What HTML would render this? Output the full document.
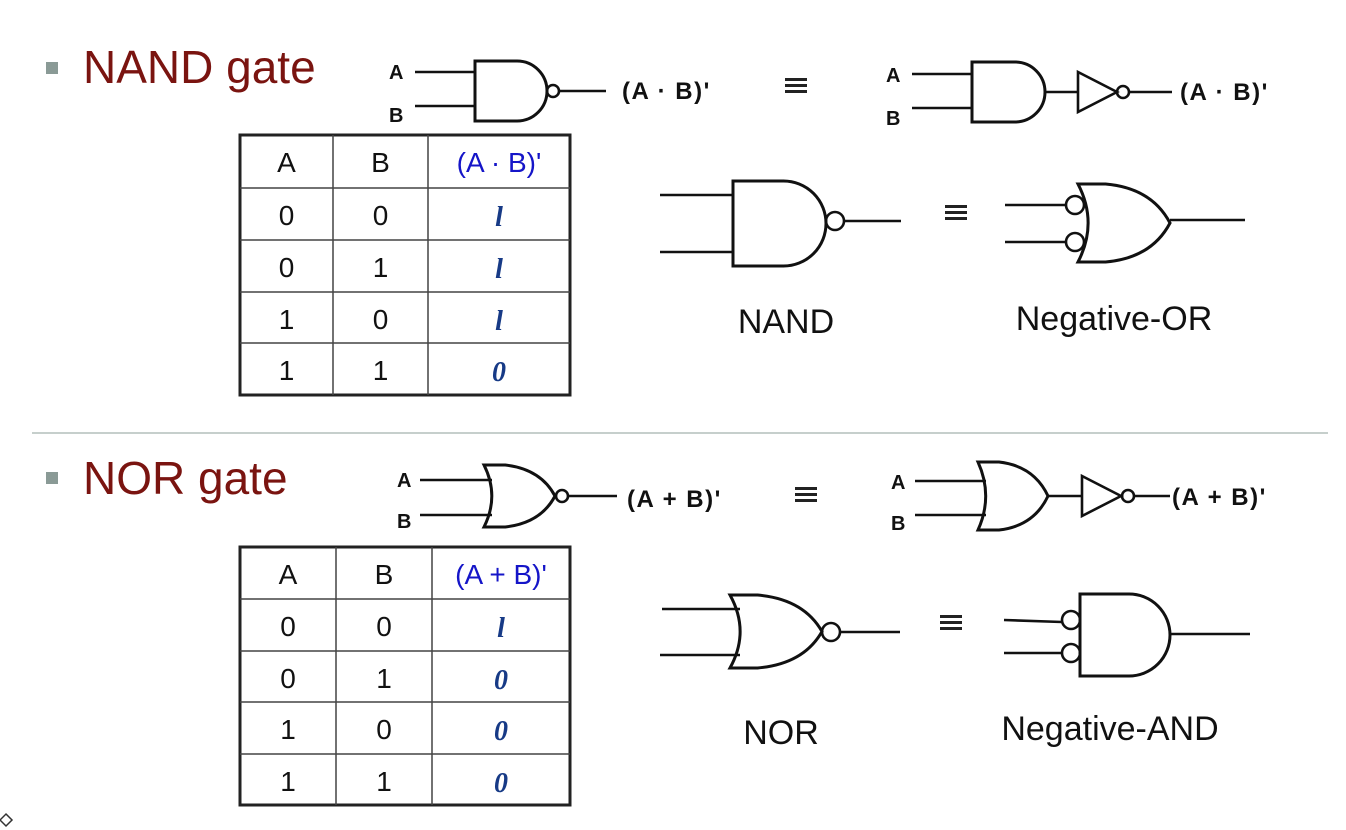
<!DOCTYPE html>
<html><head><meta charset="utf-8"><style>
html,body{margin:0;padding:0;background:#fff;}
svg{display:block;font-family:"Liberation Sans",sans-serif;}
</style></head><body>
<svg id="s" width="1346" height="830" viewBox="0 0 1346 830"></svg>
<script>
const NS='http://www.w3.org/2000/svg';
const s=document.getElementById('s');
function el(tag,attrs,name,txt){const e=document.createElementNS(NS,tag);for(const k in attrs)e.setAttribute(k,attrs[k]);


if(txt!==undefined)e.textContent=txt;s.appendChild(e);return e;}
const st={stroke:'#111',fill:'none','stroke-width':2.6};
function line(x1,y1,x2,y2,n){return el('line',Object.assign({x1,y1,x2,y2},st),n);}
function and(x0,y0,x1,y1,n){const r=(y1-y0)/2,xm=x1-r;return el('path',Object.assign({d:`M${x0},${y0}H${xm}A${r},${r} 0 0 1 ${xm},${y1}H${x0}Z`},st,{'stroke-width':3}),n);}
function or(x0,y0,x1,y1,n){const w=x1-x0,ym=(y0+y1)/2;return el('path',Object.assign({d:`M${x0},${y0}H${x0+w*0.3}Q${x0+w*0.8},${y0+4} ${x1},${ym}Q${x0+w*0.8},${y1-4} ${x0+w*0.3},${y1}H${x0}Q${x0+w*0.22},${ym} ${x0},${y0}Z`},st,{'stroke-width':3}),n);}
function bub(cx,cy,r,n){return el('circle',Object.assign({cx,cy,r},st),n);}
function tri(x0,y0,x1,y1,n){return el('path',Object.assign({d:`M${x0},${y0}L${x1},${(y0+y1)/2}L${x0},${y1}Z`},st),n);}
function txt(x,y,t,size,n,o){return el('text',Object.assign({x,y,'font-size':size,fill:'#111'},o||{}),n,t);}
function equiv(x,y,n){[0,6,12].forEach(d=>el('rect',{x:x,y:y+d,width:22,height:3,fill:'#222'},n));}
const EX={'font-weight':'bold','letter-spacing':'1.5'};

// NAND section
el('rect',{x:46,y:62,width:12,height:12,fill:'#8a9a96'},'nand-bullet');
txt(83,83,'NAND gate',46,'nand-title',{fill:'#7a1410'});
txt(389,79,'A',20,'nand-a-label',{'font-weight':'bold'});
txt(389,122,'B',20,'nand-b-label',{'font-weight':'bold'});
line(415,72,475,72,'nand-input-a');line(415,106,475,106,'nand-input-b');
and(475,61,547,121,'nand-body');bub(553,91,6,'nand-bubble');line(559,91,606,91,'nand-output');
txt(622,99,"(A · B)'",24,'nand-expression',EX);
equiv(785,78,'equiv-1');
txt(886,82,'A',20,'nand2-a-label',{'font-weight':'bold'});
txt(886,125,'B',20,'nand2-b-label',{'font-weight':'bold'});
line(912,74,972,74,'nand2-input-a');line(912,108,972,108,'nand2-input-b');
and(972,62,1045,122,'and-body');line(1045,92,1078,92,'and-out');
tri(1078,72,1117,112,'inverter');bub(1123,92,6,'inverter-bubble');line(1129,92,1172,92,'nand2-output');
txt(1180,100,"(A · B)'",24,'nand2-expression',EX);

line(660,195,733,195,'big-nand-in-a');line(660,252,733,252,'big-nand-in-b');
and(733,181,826,266,'big-nand-body');bub(835,221,9,'big-nand-bubble');line(844,221,901,221,'big-nand-out');
txt(786,333,'NAND',34,'nand-label',{'text-anchor':'middle'});
equiv(945,205,'equiv-2');
line(1005,205,1066,205,'negor-in-a');line(1005,242,1066,242,'negor-in-b');
bub(1075,205,9,'negor-bubble-a');bub(1075,242,9,'negor-bubble-b');
or(1078,184,1170,262,'negor-body');line(1170,220,1245,220,'negor-out');
txt(1114,330,'Negative-OR',34,'negor-label',{'text-anchor':'middle'});

function table(x,cols,rows,hdr,vals,hand,n){
  el('rect',{x:x,y:rows[0],width:cols[3]-x,height:rows[5]-rows[0],fill:'none',stroke:'#222','stroke-width':3},n+'-border');
  for(let i=1;i<5;i++)el('line',{x1:x,y1:rows[i],x2:cols[3],y2:rows[i],stroke:'#444','stroke-width':1.5},n+'-row-line');
  for(let i=1;i<3;i++)el('line',{x1:cols[i],y1:rows[0],x2:cols[i],y2:rows[5],stroke:'#444','stroke-width':1.5},n+'-col-line');
  const cx=[(x+cols[1])/2,(cols[1]+cols[2])/2,(cols[2]+cols[3])/2];
  txt(cx[0],rows[0]+37,'A',28,n+'-header-a',{'text-anchor':'middle'});
  txt(cx[1],rows[0]+37,'B',28,n+'-header-b',{'text-anchor':'middle'});
  txt(cx[2],rows[0]+37,hdr,28,n+'-header-out',{'text-anchor':'middle',fill:'#1515c8'});
  for(let r=0;r<4;r++){
    txt(cx[0],rows[r+1]+37,vals[r][0],28,n+'-cell',{'text-anchor':'middle'});
    txt(cx[1],rows[r+1]+37,vals[r][1],28,n+'-cell',{'text-anchor':'middle'});
    txt(cx[2],rows[r+1]+38,hand[r],28,n+'-handwritten',{'text-anchor':'middle',fill:'#173a86','font-weight':'bold','font-style':'italic','font-family':'Liberation Serif,serif'});
  }
}
const vals=[['0','0'],['0','1'],['1','0'],['1','1']];
table(240,[240,333,428,570],[135,188,240,292,343,395],"(A · B)'",vals,['l','l','l','0'],'nand-table');

el('line',{x1:32,y1:433,x2:1328,y2:433,stroke:'#b4bfbc','stroke-width':1.5},'separator');

// NOR section
el('rect',{x:46,y:472,width:12,height:12,fill:'#8a9a96'},'nor-bullet');
txt(83,494,'NOR gate',46,'nor-title',{fill:'#7a1410'});
txt(397,487,'A',20,'nor-a-label',{'font-weight':'bold'});
txt(397,528,'B',20,'nor-b-label',{'font-weight':'bold'});
line(420,480,492,480,'nor-input-a');line(420,515,492,515,'nor-input-b');
or(484,465,555,527,'nor-body');bub(562,496,6,'nor-bubble');line(568,496,617,496,'nor-output');
txt(627,507,"(A + B)'",24,'nor-expression',EX);
equiv(795,487,'equiv-3');
txt(891,489,'A',20,'nor2-a-label',{'font-weight':'bold'});
txt(891,530,'B',20,'nor2-b-label',{'font-weight':'bold'});
line(915,481,986,481,'nor2-input-a');line(915,515,986,515,'nor2-input-b');
or(978,462,1048,530,'or-body');line(1048,496,1082,496,'or-out');
tri(1082,476,1121,516,'inverter-2');bub(1128,496,6,'inverter-2-bubble');line(1134,496,1170,496,'nor2-output');
txt(1172,505,"(A + B)'",24,'nor2-expression',EX);

table(240,[240,336,432,570],[547,599,651,702,754,805],"(A + B)'",vals,['l','0','0','0'],'nor-table');

line(662,609,740,609,'big-nor-in-a');line(660,655,740,655,'big-nor-in-b');
or(730,595,822,668,'big-nor-body');bub(831,632,9,'big-nor-bubble');line(840,632,900,632,'big-nor-out');
txt(781,744,'NOR',34,'nor-label',{'text-anchor':'middle'});
equiv(940,615,'equiv-4');
line(1004,620,1062,622,'negand-in-a');line(1004,653,1062,653,'negand-in-b');
bub(1071,620,9,'negand-bubble-a');bub(1071,653,9,'negand-bubble-b');
and(1080,594,1170,676,'negand-body');line(1170,634,1250,634,'negand-out');
txt(1110,740,'Negative-AND',34,'negand-label',{'text-anchor':'middle'});

el('path',{d:'M6,814L12,820L6,826L0,820Z',fill:'none',stroke:'#333','stroke-width':1.5},'corner-icon');
</script>
</body></html>
